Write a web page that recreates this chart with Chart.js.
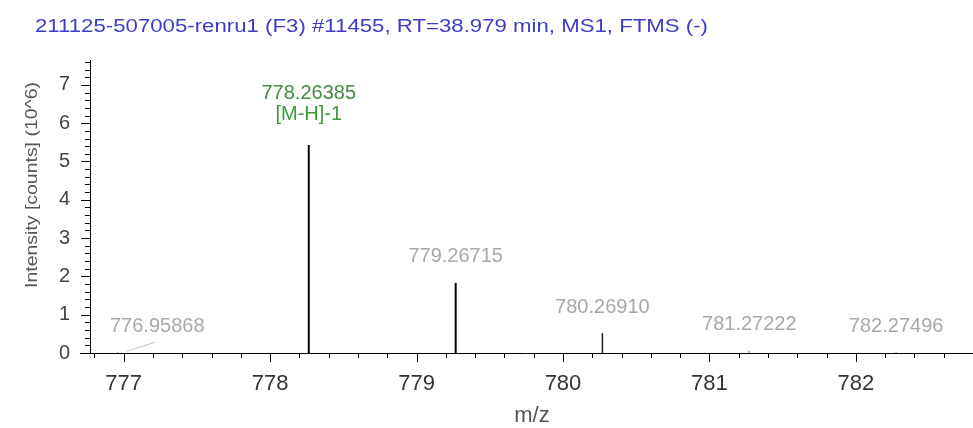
<!doctype html>
<html>
<head>
<meta charset="utf-8">
<script src="https://cdn.jsdelivr.net/npm/chart.js@4.4.1/dist/chart.umd.min.js"></script>
<style>
  body { margin: 0; background: #fff; }
  canvas { display: block; }
</style>
</head>
<body>
<canvas id="chart" width="973" height="428"></canvas>
<script>
const titleText = '211125-507005-renru1 (F3) #11455, RT=38.979 min, MS1, FTMS (-)'
const xTitle = 'm/z'
const yTitle = 'Intensity [counts] (10^6)'

// centroid peaks, intensity in 10^6 counts
const mz = [776.95868, 778.26385, 779.26715, 780.26910, 781.27222, 782.27496]
const intensity = [0.02, 5.43, 1.83, 0.52, 0.06, 0.02]
const peakLabels = ['776.95868', '778.26385', '779.26715', '780.26910', '781.27222', '782.27496']
const peakNotes = ['', '[M-H]-1', '', '', '', '']

const xTicks = [777, 778, 779, 780, 781, 782]
const yTicks = [0, 1, 2, 3, 4, 5, 6, 7]
const xRange = [776.77, 782.8]
const yRange = [0, 7.65]
const minorStep = 0.2

const FONT = '"Liberation Sans", Arial, sans-serif'
const lineColor = (h) => h > 1 ? '#000' : (h > 0.2 ? '#222' : '#999')

const text = (ctx, s, x, y, size, color, align, width) => {
  ctx.save()
  ctx.font = size + 'px ' + FONT
  ctx.fillStyle = color
  ctx.textAlign = align
  ctx.textBaseline = 'middle'
  ctx.translate(x, y)
  if (width) ctx.scale(width / ctx.measureText(s).width, 1)
  ctx.fillText(s, 0, 0)
  ctx.restore()
}

const spectrumDecor = {
  id: 'spectrumDecor',
  afterDatasetsDraw(chart) {
    const ctx = chart.ctx
    const xs = chart.scales.x, ys = chart.scales.y
    const a = chart.chartArea

    ctx.save()
    ctx.strokeStyle = '#000'
    ctx.lineWidth = 1
    ctx.beginPath()
    ctx.moveTo(a.left - 10, a.bottom + 0.5)
    ctx.lineTo(a.right, a.bottom + 0.5)
    ctx.moveTo(a.left + 0.5, a.bottom)
    ctx.lineTo(a.left + 0.5, a.top)

    // x ticks, major on integers
    for (let v = Math.ceil(xRange[0] / minorStep) * minorStep; v <= xRange[1]; v += minorStep) {
      const px = Math.round(xs.getPixelForValue(v)) + 0.5
      const major = Math.abs(v - Math.round(v)) < 1e-6
      ctx.moveTo(px, a.bottom)
      ctx.lineTo(px, a.bottom + (major ? 9 : 5))
    }
    // y ticks
    for (let v = 0; v <= yRange[1] + 1e-6; v += minorStep) {
      const py = Math.round(ys.getPixelForValue(v)) + 0.5
      const major = Math.abs(v - Math.round(v)) < 1e-6
      ctx.moveTo(a.left, py)
      ctx.lineTo(a.left - (major ? 9 : 5), py)
    }
    ctx.stroke()
    ctx.restore()

    xTicks.forEach(v => text(ctx, String(v), xs.getPixelForValue(v), a.bottom + 31, 22, '#333', 'center'))
    yTicks.forEach(v => text(ctx, String(v), a.left - 20, ys.getPixelForValue(v), 20, '#444', 'right'))

    // peak labels
    mz.forEach((m, i) => {
      const px = xs.getPixelForValue(m)
      const top = ys.getPixelForValue(intensity[i])
      const note = peakNotes[i]
      const color = note ? '#458a45' : '#a8a8a8'
      ctx.save()
      ctx.font = '20px ' + FONT
      const w = ctx.measureText(peakLabels[i]).width
      ctx.restore()
      let cx = px
      const ly = note ? top - 52 : top - 26
      if (cx - w / 2 < a.left + 20) {
        // label pushed off the axis, tie it back with a leader
        cx = a.left + 20 + w / 2
        ctx.save()
        ctx.strokeStyle = '#c8c8c8'
        ctx.lineWidth = 1
        ctx.beginPath()
        ctx.moveTo(px + 9, top - 1)
        ctx.lineTo(cx - 2, ly + 16)
        ctx.stroke()
        ctx.restore()
      }
      text(ctx, peakLabels[i], cx, ly, 20, color, 'center')
      if (note) text(ctx, note, cx, top - 31, 20, '#3c9a3c', 'center')
    })

    text(ctx, titleText, 35, 27, 18, '#3c3cc8', 'left', 673)
    text(ctx, xTitle, 532, 416, 22, '#555', 'center')

    ctx.save()
    ctx.translate(32, 185)
    ctx.rotate(-Math.PI / 2)
    text(ctx, yTitle, 0, 0, 17, '#555', 'center', 206)
    ctx.restore()
  }
}

const datasets = mz.map((m, i) => ({
  data: [{ x: m, y: 0 }, { x: m, y: intensity[i] }],
  borderColor: lineColor(intensity[i]),
  borderWidth: intensity[i] > 1 ? 2 : 1.5,
  showLine: true,
  pointRadius: 0
}))

new Chart(document.getElementById('chart').getContext('2d'), {
  type: 'scatter',
  data: { datasets },
  options: {
    responsive: false,
    animation: false,
    layout: { padding: { left: 90, top: 60, right: 0, bottom: 75 } },
    plugins: { legend: { display: false }, tooltip: { enabled: false } },
    scales: {
      x: { type: 'linear', min: xRange[0], max: xRange[1], display: false },
      y: { type: 'linear', min: yRange[0], max: yRange[1], display: false }
    }
  },
  plugins: [spectrumDecor]
})
</script>
</body>
</html>
